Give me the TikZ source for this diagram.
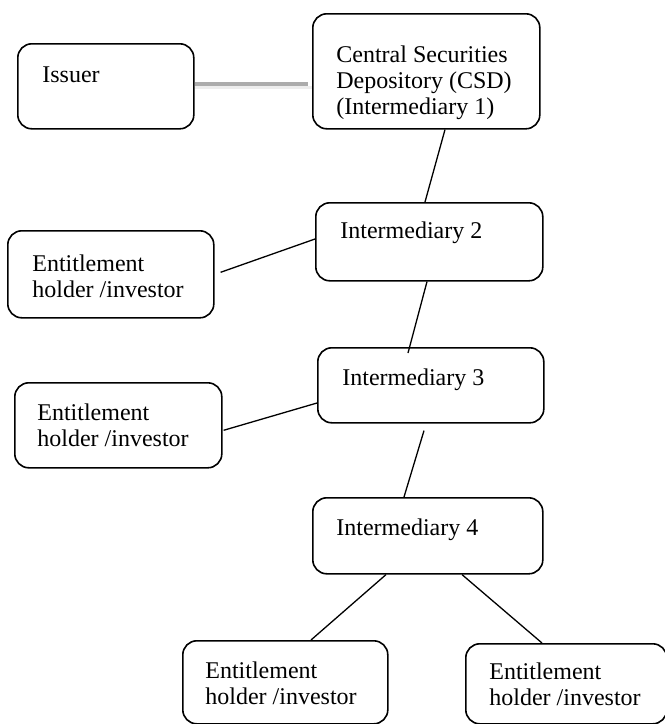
\documentclass[tikz,border=0pt]{standalone}
\usepackage{fontspec}
\setmainfont{Liberation Serif}
\usetikzlibrary{calc}

\tikzset{every picture/.style={line width=0.75pt}}
\tikzset{
  entity/.style={draw, rounded corners=14pt, line width=1.6pt, anchor=north west, inner sep=0pt},
  lbl/.style={anchor=base west, inner sep=0pt, font=\fontsize{24}{26}\selectfont},
  link/.style={line width=1.3pt},
  grayline/.style={line width=3.5pt, color={rgb, 255:red, 172; green, 172; blue, 172}},
  grayshade/.style={line width=3pt, color=black!7},
}
\newcommand{\boxlines}[1]{\begin{tabular}[t]{@{}l@{}}#1\end{tabular}}

\begin{document}
\begin{tikzpicture}[x=1pt,y=1pt,yscale=-1,xscale=1]
\useasboundingbox (0,0) rectangle (665,724);

%Rounded Rect [id:issuer]
\node[entity, minimum width=176pt, minimum height=85pt] (issuer) at (17,43) {};
%Rounded Rect [id:csd]
\node[entity, minimum width=227pt, minimum height=115pt] (csd) at (312,13) {};
%Rounded Rect [id:int2]
\node[entity, minimum width=227pt, minimum height=78pt] (int2) at (315,202) {};
%Rounded Rect [id:int3]
\node[entity, minimum width=226pt, minimum height=75pt] (int3) at (317,347) {};
%Rounded Rect [id:int4]
\node[entity, minimum width=230pt, minimum height=76pt] (int4) at (312,497) {};
%Rounded Rect [id:ent1]
\node[entity, minimum width=206pt, minimum height=87pt] (ent1) at (7,230) {};
%Rounded Rect [id:ent2]
\node[entity, minimum width=207pt, minimum height=85pt] (ent2) at (14,382) {};
%Rounded Rect [id:ent3]
\node[entity, minimum width=205pt, minimum height=83pt] (ent3) at (182,640) {};
%Rounded Rect [id:ent4]
\node[entity, minimum width=201pt, minimum height=80pt] (ent4) at (465,643) {};

%Straight Lines [id:issuer-csd]
\draw[grayshade] (issuer.east |- 0,87.5) -- (csd.west |- 0,87.5);
\draw[grayline] (issuer.east |- 0,84) -- ($(csd.west |- 0,84)+(-4,0)$);
%Straight Lines [id:csd-int2]
\draw[link] (csd.south -| 445,0) -- (int2.north -| 425,0);
%Straight Lines [id:ent1-int2]
\draw[link] ($(ent1.east)+(6,-2)$) -- (int2.west |- 0,239);
%Straight Lines [id:int2-int3]
\draw[link] (int2.south -| 427,0) -- ($(int3.north -| 408,0)+(0,6)$);
%Straight Lines [id:ent2-int3]
\draw[link] ($(ent2.east)+(1,5)$) -- (int3.west |- 0,403);
%Straight Lines [id:int3-int4]
\draw[link] ($(int3.south -| 424,0)+(0,7)$) -- (int4.north -| 404,0);
%Straight Lines [id:int4-ent3]
\draw[link] (int4.south -| 386,0) -- (ent3.north -| 311,0);
%Straight Lines [id:int4-ent4]
\draw[link] (int4.south -| 462,0) -- (ent4.north -| 542,0);

% Text Node
\node[lbl] (issuer-t) at (42,82) {Issuer};
% Text Node
\node[lbl] (csd-t) at (336,62) {\boxlines{Central Securities\\Depository (CSD)\\(Intermediary 1)}};
% Text Node
\node[lbl] (int2-t) at (340,238) {Intermediary 2};
% Text Node
\node[lbl] (int3-t) at (342,385) {Intermediary 3};
% Text Node
\node[lbl] (int4-t) at (336,535) {Intermediary 4};
% Text Node
\node[lbl] (ent1-t) at (32,271) {\boxlines{Entitlement\\holder /investor}};
% Text Node
\node[lbl] (ent2-t) at (37,420) {\boxlines{Entitlement\\holder /investor}};
% Text Node
\node[lbl] (ent3-t) at (205,678) {\boxlines{Entitlement\\holder /investor}};
% Text Node
\node[lbl] (ent4-t) at (489,679) {\boxlines{Entitlement\\holder /investor}};

\end{tikzpicture}
\end{document}
